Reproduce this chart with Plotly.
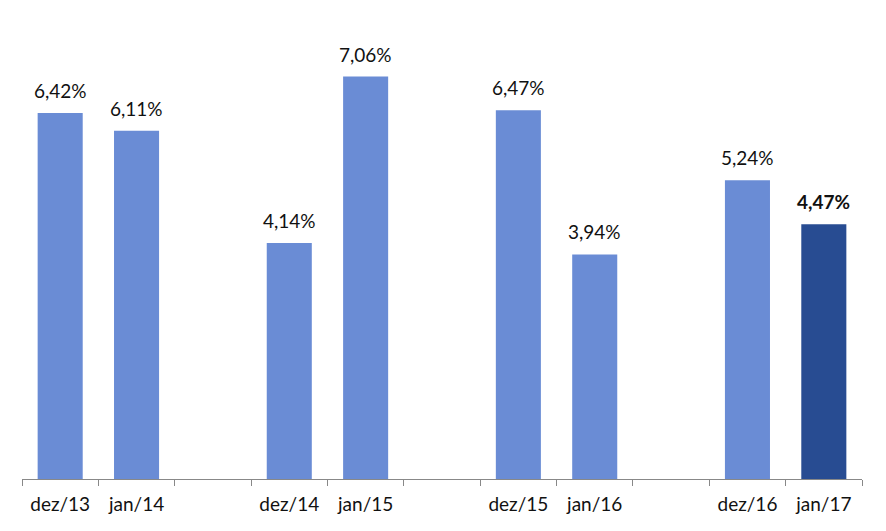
import plotly.graph_objects as go

categories = ["dez/13", "jan/14", " ", "dez/14", "jan/15", "  ", "dez/15", "jan/16", "   ", "dez/16", "jan/17"]
values = [6.42, 6.11, None, 4.14, 7.06, None, 6.47, 3.94, None, 5.24, 4.47]
highlight = [False, False, False, False, False, False, False, False, False, False, True]

light = "#6A8CD5"
dark = "#284C92"
FONT = "Lato, Open Sans, sans-serif"

colors = [dark if h else light for h in highlight]

fig = go.Figure(go.Bar(
    x=categories, y=values, marker_color=colors, marker_line_width=0,
))
for c, v, h in zip(categories, values, highlight):
    if v is None:
        continue
    s = f"{v:.2f}".replace(".", ",") + "%"
    fig.add_annotation(x=c, y=v, text=f"<b>{s}</b>" if h else s, showarrow=False,
                       yanchor="bottom", yshift=9,
                       font=dict(family=FONT, size=19, color="#111111"))

fig.update_layout(
    width=886, height=531,
    margin=dict(l=14, r=32, t=15, b=60),
    paper_bgcolor="white", plot_bgcolor="white",
    bargap=0.41, showlegend=False,
    font=dict(family=FONT, size=19, color="#111111"),
)
fig.update_xaxes(type="category", tickson="boundaries", ticks="outside", ticklen=6,
                 tickcolor="#888888", tickwidth=1, showline=True, linecolor="#888888",
                 linewidth=1, showgrid=False, tickfont=dict(size=19),
                 ticklabelstandoff=8, automargin=False)
fig.update_yaxes(range=[0, 8], visible=False, showgrid=False, automargin=False)
fig.write_html("out.html")
